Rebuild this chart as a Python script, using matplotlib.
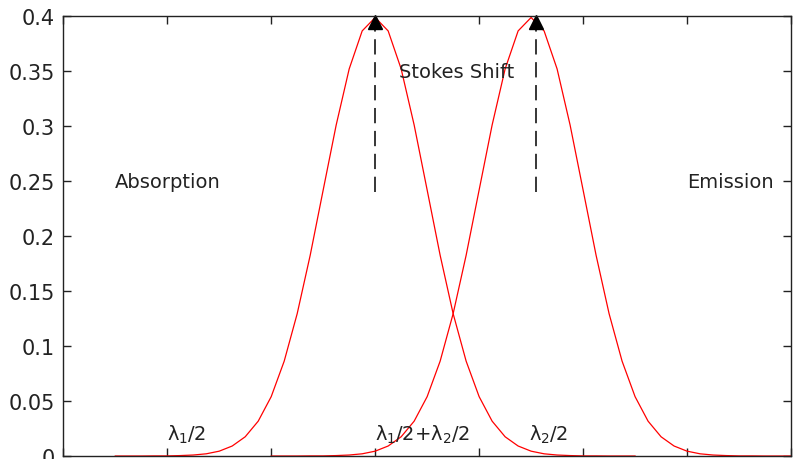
import matplotlib.pyplot as plt
import numpy as np

# sample points of the two bands
x_abs = [-5.0, -4.75, -4.5, -4.25, -4.0, -3.75, -3.5, -3.25, -3.0, -2.75, -2.5,
         -2.25, -2.0, -1.75, -1.5, -1.25, -1.0, -0.75, -0.5, -0.25, 0.0,
         0.25, 0.5, 0.75, 1.0, 1.25, 1.5, 1.75, 2.0, 2.25, 2.5,
         2.75, 3.0, 3.25, 3.5, 3.75, 4.0, 4.25, 4.5, 4.75, 5.0]
y_abs = [0.0, 0.0, 0.0, 0.0001, 0.0001, 0.0004, 0.0009, 0.0020, 0.0044, 0.0091, 0.0175,
         0.0317, 0.0540, 0.0863, 0.1295, 0.1826, 0.2420, 0.3011, 0.3521, 0.3867, 0.3989,
         0.3867, 0.3521, 0.3011, 0.2420, 0.1826, 0.1295, 0.0863, 0.0540, 0.0317, 0.0175,
         0.0091, 0.0044, 0.0020, 0.0009, 0.0004, 0.0001, 0.0001, 0.0, 0.0, 0.0]
x_emi = [-2.0, -1.75, -1.5, -1.25, -1.0, -0.75, -0.5, -0.25, 0.0, 0.25, 0.5,
         0.75, 1.0, 1.25, 1.5, 1.75, 2.0, 2.25, 2.5, 2.75, 3.0,
         3.25, 3.5, 3.75, 4.0, 4.25, 4.5, 4.75, 5.0, 5.25, 5.5,
         5.75, 6.0, 6.25, 6.5, 6.75, 7.0, 7.25, 7.5, 7.75, 8.0]
y_emi = y_abs

peaks_x = [0.0, 3.1]
peak_y = 0.395
dash_bottom = 0.24

xtick_vals = [-6, -4, -2, 0, 2, 4, 6, 8]
ytick_vals = [0, 0.05, 0.1, 0.15, 0.2, 0.25, 0.3, 0.35, 0.4]
ytick_labels = ['0', '0.05', '0.1', '0.15', '0.2', '0.25', '0.3', '0.35', '0.4']

fig = plt.figure(figsize=(7.93, 4.6), dpi=100)
ax = fig.add_axes([0.0798, 0.0065, 0.9177, 0.9559])

ax.plot(x_abs, y_abs, color='red', lw=0.9)
ax.plot(x_emi, y_emi, color='red', lw=0.9)

for px in peaks_x:
    ax.plot([px, px], [dash_bottom, peak_y], color='black', lw=1.1, dashes=(10, 5))
    ax.plot([px], [peak_y], marker='^', ms=10, color='black', clip_on=False)

txt = dict(fontsize=14, color='#222222', va='center', ha='left')
ax.text(-5.0, 0.25, 'Absorption', **txt)
ax.text(6.0, 0.25, 'Emission', **txt)
ax.text(0.45, 0.35, 'Stokes Shift', **txt)
ax.text(-4.0, 0.02, r'$\mathregular{\lambda_1/2}$', **txt)
ax.text(0.0, 0.02, r'$\mathregular{\lambda_1/2{+}\lambda_2/2}$', **txt)
ax.text(2.95, 0.02, r'$\mathregular{\lambda_2/2}$', **txt)

ax.set_xlim(-6, 8)
ax.set_ylim(0, 0.4)
ax.set_xticks(xtick_vals)
ax.set_xticklabels([])
ax.set_yticks(ytick_vals)
ax.set_yticklabels(ytick_labels)
ax.tick_params(direction='in', length=6, width=1, top=True, right=True,
               labelsize=15, colors='#222222', pad=6)
for s in ax.spines.values():
    s.set_color('#222222')
    s.set_linewidth(1)

fig.savefig('out.png', dpi=100)
